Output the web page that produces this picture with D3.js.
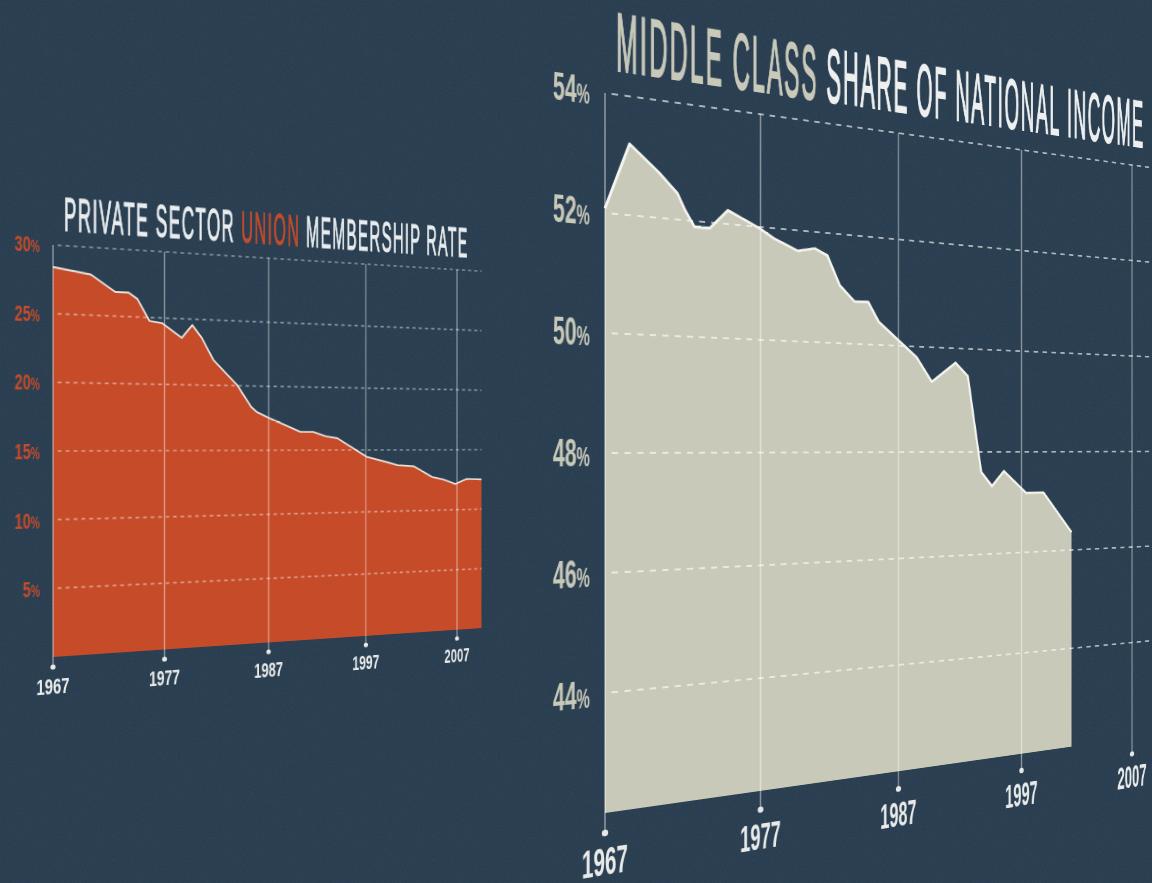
<!DOCTYPE html>
<html>
<head>
<meta charset="utf-8">
<script src="https://cdn.jsdelivr.net/npm/d3@7"></script>
<style>
  html, body { margin: 0; height: 100%; overflow: hidden; background: #263b4e; }
  #page { position: relative; width: 1152px; height: 883px; overflow: hidden; filter: blur(0.45px); }
  #page svg { position: absolute; left: 0; top: 0; overflow: visible; transform-origin: 0 0; }
  text { font-family: "Liberation Sans Narrow", "Liberation Sans", sans-serif; }
</style>
</head>
<body>
<div id="page"></div>
<script>
// Data
const yearTicks = [1967, 1977, 1987, 1997, 2007]

const unionYears = [1967, 1970.3, 1972.5, 1973.7, 1974.5, 1975.6, 1976.8, 1978.6, 1979.6, 1980.5, 1981.6, 1983.9, 1985.3, 1985.8, 1987.1, 1990.2, 1991.5, 1992.8, 1994, 1997.1, 1999.3, 2000.4, 2002.2, 2004.2, 2005.4, 2006.8, 2008.1, 2009.8]
const unionRate = [28.4, 28.0, 26.8, 26.8, 26.35, 24.75, 24.6, 23.55, 24.55, 23.6, 21.95, 20.05, 18.35, 18.0, 17.5, 16.45, 16.45, 16.1, 15.95, 14.45, 14.0, 13.75, 13.65, 12.75, 12.55, 12.15, 12.55, 12.5]
const unionTicks = [5, 10, 15, 20, 25, 30]

const middleYears = [1967, 1968.5, 1970.3, 1971.5, 1972, 1972.6, 1973.6, 1974.8, 1976.9, 1977.9, 1979.6, 1980.8, 1981.7, 1982.6, 1983.7, 1984.7, 1985.5, 1987.2, 1988.4, 1989.6, 1991.5, 1992.5, 1993.6, 1994.5, 1995.5, 1997.4, 1998.9, 2001.4]
const middleShare = [52.08, 53.2, 52.78, 52.45, 52.17, 51.9, 51.9, 52.24, 51.98, 51.82, 51.63, 51.7, 51.59, 51.06, 50.78, 50.79, 50.43, 50.06, 49.8, 49.34, 49.72, 49.47, 47.61, 47.33, 47.62, 47.18, 47.18, 46.36]
const middleTicks = [44, 46, 48, 50, 52, 54]

// square -> quad, then as css matrix3d for the flat rect
function planeMatrix(rect, q) {
  const [[x0, y0], [x1, y1], [x2, y2], [x3, y3]] = q
  const sx = x0 - x1 + x2 - x3, sy = y0 - y1 + y2 - y3
  const dx1 = x1 - x2, dx2 = x3 - x2, dy1 = y1 - y2, dy2 = y3 - y2
  const den = dx1 * dy2 - dx2 * dy1
  const g = (sx * dy2 - dx2 * sy) / den
  const h = (dx1 * sy - sx * dy1) / den
  const a = x1 - x0 + g * x1, b = x3 - x0 + h * x3
  const d = y1 - y0 + g * y1, e = y3 - y0 + h * y3
  const [X, Y, W, H] = rect
  const m = [
    a / W, d / W, 0, g / W,
    b / H, e / H, 0, h / H,
    0, 0, 1, 0,
    x0 - a * X / W - b * Y / H, y0 - d * X / W - e * Y / H, 0, 1 - g * X / W - h * Y / H
  ]
  return `matrix3d(${m.join(',')})`
}

function drawPanel(o) {
  const svg = d3.select('#page').append('svg')
    .attr('width', o.flatW + o.ml + 120)
    .attr('height', o.flatH + o.mt + 140)
    .style('transform', planeMatrix([o.ml, o.mt, o.flatW, o.flatH], o.quad))

  const g = svg.append('g').attr('transform', `translate(${o.ml},${o.mt})`)

  const x = d3.scaleLinear().domain([1967, 2007]).range([0, o.flatW])
  const y = d3.scaleLinear().domain(o.valueDomain).range([o.flatH, 0])

  // area + top line
  const pts = o.years.map((yr, i) => [yr, o.values[i]])
  g.append('path')
    .attr('fill', o.fill)
    .attr('d', d3.area().x(d => x(d[0])).y0(y(o.valueDomain[0])).y1(d => y(d[1]))(pts))

  // horizontal dashes
  g.append('g')
    .selectAll('line')
    .data(o.ticks)
    .join('line')
    .attr('x1', x(o.gridFrom))
    .attr('x2', x(o.gridTo))
    .attr('y1', d => y(d))
    .attr('y2', d => y(d))
    .attr('stroke', '#fff')
    .attr('stroke-opacity', o.gridOpacity)
    .attr('stroke-width', o.gridWidth)
    .attr('stroke-dasharray', o.dash)

  // year lines, top line down to the dot
  g.append('g')
    .selectAll('line')
    .data(yearTicks)
    .join('line')
    .attr('x1', d => x(d))
    .attr('x2', d => x(d))
    .attr('y1', 0)
    .attr('y2', o.flatH + o.dotDrop)
    .attr('stroke', '#fff')
    .attr('stroke-opacity', 0.45)
    .attr('stroke-width', o.tickWidth)

  g.append('g')
    .selectAll('circle')
    .data(yearTicks)
    .join('circle')
    .attr('cx', d => x(d))
    .attr('cy', o.flatH + o.dotDrop)
    .attr('r', o.dotR)
    .attr('fill', '#e6e8e6')

  g.append('path')
    .attr('fill', 'none')
    .attr('stroke', o.lineColor)
    .attr('stroke-width', o.lineWidth)
    .attr('stroke-linejoin', 'round')
    .attr('d', d3.line().x(d => x(d[0])).y(d => y(d[1]))(pts))

  // year labels
  g.append('g')
    .selectAll('text')
    .data(yearTicks)
    .join('text')
    .attr('x', d => x(d))
    .attr('y', o.flatH + o.dotDrop + o.yearDrop)
    .attr('text-anchor', 'middle')
    .attr('font-size', o.yearSize)
    .attr('font-weight', 'bold')
    .attr('textLength', o.yearLen)
    .attr('lengthAdjust', 'spacingAndGlyphs')
    .attr('fill', '#e8eaea')
    .text(d => d)

  // value labels
  const vl = g.append('g')
    .selectAll('text')
    .data(o.ticks)
    .join('text')
    .attr('x', -o.labelGap)
    .attr('y', d => y(d) + o.labelDrop)
    .attr('text-anchor', 'end')
    .attr('font-size', o.labelSize)
    .attr('font-weight', 'bold')
    .attr('textLength', d => (d < 10 ? 0.68 : 1) * o.labelLen)
    .attr('lengthAdjust', 'spacingAndGlyphs')
    .attr('fill', o.labelColor)
  vl.append('tspan').text(d => d)
  vl.append('tspan').attr('font-size', o.labelSize * 0.72).text('%')

  // title
  const title = g.append('text')
    .attr('x', o.titleX)
    .attr('y', -o.titleRise)
    .attr('font-size', o.titleSize)
    .attr('letter-spacing', o.titleSpacing)
    .attr('textLength', o.titleLen)
    .attr('lengthAdjust', 'spacingAndGlyphs')
    .attr('stroke-width', o.titleStroke)
  o.title.forEach(t => {
    title.append('tspan').attr('fill', t[1]).attr('stroke', t[1]).text(t[0])
  })
}

// noise on the backdrop
const bg = d3.select('#page').append('svg').attr('width', 1152).attr('height', 883)
bg.append('filter').attr('id', 'grain')
  .append('feTurbulence').attr('type', 'fractalNoise').attr('baseFrequency', 0.8).attr('numOctaves', 2)
bg.append('rect').attr('width', 1152).attr('height', 883)
  .attr('filter', 'url(#grain)').attr('opacity', 0.08)

drawPanel({
  years: unionYears, values: unionRate, ticks: unionTicks, valueDomain: [0, 30],
  ml: 90, mt: 80, flatW: 462, flatH: 412,
  quad: [[53, 245], [457, 269.7], [457, 629.7], [53, 657]],
  fill: '#c54b29', lineColor: '#e9e2da', lineWidth: 1.9,
  gridFrom: 1967.4, gridTo: 2009.8, gridOpacity: 0.45, gridWidth: 1.6, dash: '4 4',
  tickWidth: 1.4, dotDrop: 10, dotR: 2.6, yearDrop: 27, yearSize: 22, yearLen: 33,
  labelGap: 13, labelDrop: 8, labelSize: 23, labelLen: 25, labelColor: '#c54b29',
  titleX: 11, titleRise: 15, titleSize: 48, titleSpacing: 4, titleLen: 466, titleStroke: 1.1,
  title: [['PRIVATE SECTOR ', '#e8ecee'], ['UNION ', '#c54b29'], ['MEMBERSHIP RATE', '#e8ecee']]
})

drawPanel({
  years: middleYears, values: middleShare, ticks: middleTicks, valueDomain: [42, 54],
  ml: 110, mt: 130, flatW: 662, flatH: 720,
  quad: [[605, 93], [1132, 165], [1132, 738], [605, 813]],
  fill: '#c9c9ba', lineColor: '#f4f4ee', lineWidth: 2.8,
  gridFrom: 1967.4, gridTo: 2010, gridOpacity: 0.62, gridWidth: 2.2, dash: '6.5 6.5',
  tickWidth: 1.6, dotDrop: 20, dotR: 3.2, yearDrop: 42, yearSize: 38, yearLen: 46,
  labelGap: 15, labelDrop: 13, labelSize: 39, labelLen: 36, labelColor: '#c9c9ba',
  titleX: 11, titleRise: 24, titleSize: 83, titleSpacing: 7, titleLen: 671, titleStroke: 2,
  title: [['MIDDLE CLASS ', '#c9c9ba'], ['SHARE OF NATIONAL INCOME', '#eef0f0']]
})
</script>
</body>
</html>
